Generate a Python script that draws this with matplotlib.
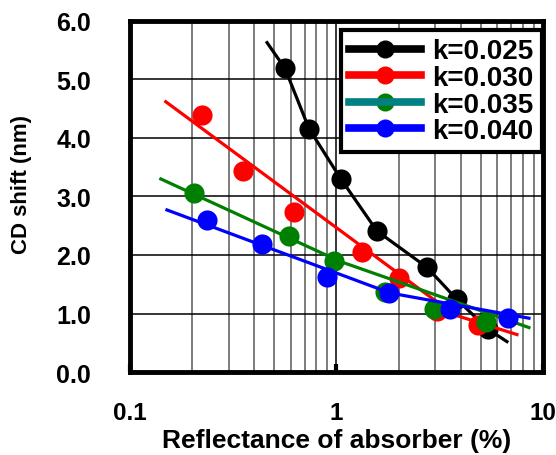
import matplotlib
matplotlib.use("Agg")
import matplotlib.pyplot as plt
import numpy as np
from matplotlib.lines import Line2D
from matplotlib.legend_handler import HandlerTuple

plt.rcParams['font.family'] = ['Liberation Sans', 'DejaVu Sans']
plt.rcParams['font.weight'] = 'bold'
plt.rcParams['axes.labelweight'] = 'bold'

labels = ["k=0.025", "k=0.030", "k=0.035", "k=0.040"]
colors = ["black", "red", "green", "blue"]

# measured points
pts_x = [
    [0.563, 0.736, 1.05, 1.57, 2.74, 3.83, 5.42],
    [0.223, 0.352, 0.622, 1.33, 2.01, 3.07, 4.84],
    [0.204, 0.589, 0.973, 1.72, 2.97, 5.30],
    [0.236, 0.436, 0.90, 1.80, 3.55, 6.77],
]
pts_y = [
    [5.19, 4.16, 3.30, 2.41, 1.79, 1.24, 0.73],
    [4.40, 3.44, 2.74, 2.05, 1.60, 1.04, 0.80],
    [3.06, 2.32, 1.89, 1.36, 1.07, 0.85],
    [2.60, 2.19, 1.62, 1.35, 1.07, 0.93],
]

# fitted trend lines (vertices)
fit_x = [
    [0.461, 0.563, 0.736, 1.05, 1.57, 2.74, 3.83, 5.42, 6.69],
    [0.149, 3.17, np.nan, 3.07, 7.48],
    [0.141, 1.04, 8.55],
    [0.151, 1.82, 8.55],
]
fit_y = [
    [5.63, 5.19, 4.16, 3.30, 2.41, 1.79, 1.24, 0.73, 0.52],
    [4.62, 1.16, np.nan, 1.07, 0.64],
    [3.30, 1.89, 0.76],
    [2.77, 1.35, 0.92],
]


def draw_series(ax):
    for i in range(len(labels)):
        ax.plot(fit_x[i], fit_y[i], color=colors[i], lw=2.3, zorder=3 + i)
        ax.plot(pts_x[i], pts_y[i], 'o', color=colors[i], ms=14.5, mec='none', zorder=3 + i)


def add_legend(ax):
    handles = []
    for i in range(len(labels)):
        if i == 2:
            m = Line2D([], [], marker='o', ls='none', color='green', ms=13, mec='none')
            l = Line2D([], [], color='#008080', lw=5.5)
            handles.append((m, l))
        else:
            handles.append(Line2D([], [], color=colors[i], lw=5.5, marker='o', ms=13, mec='none'))
    leg = ax.legend(handles, labels, loc='upper right', bbox_to_anchor=(0.998, 0.974),
                    borderaxespad=0, fontsize=20, fancybox=False, framealpha=1,
                    edgecolor='black', handlelength=2.6, handletextpad=0.4,
                    labelspacing=0.02, borderpad=0.3,
                    handler_map={tuple: HandlerTuple(ndivide=1, pad=0)})
    leg.get_frame().set_linewidth(3)
    leg.set_zorder(10)


fig = plt.figure(figsize=(5.56, 4.56), dpi=100)
ax = fig.add_axes([0.2338, 0.182, 0.9766 - 0.2338, 0.9518 - 0.182])
draw_series(ax)
ax.set_xscale('log')
ax.set_xlim(0.1, 10)
ax.set_ylim(0, 6)
ax.set_xticks([0.1, 1, 10])
ax.set_xticklabels(["0.1", "1", "10"])
ax.set_yticks(np.arange(0, 6.5, 1.0))
ax.set_yticklabels(["%.1f" % v for v in np.arange(0, 6.5, 1.0)])
ax.grid(True, which='major', axis='both', color='black', lw=1.1, zorder=1)
ax.grid(True, which='minor', axis='x', color='0.35', lw=1.1, zorder=1)
ax.set_axisbelow(True)
ax.tick_params(axis='x', which='major', direction='in', length=6, width=3, labelsize=17.5, pad=21)
ax.tick_params(axis='x', which='minor', length=0)
ax.tick_params(axis='y', length=0, labelsize=18, pad=28)
for s in ax.spines.values():
    s.set_linewidth(3.5)
    s.set_zorder(12)
ax.set_xlabel("Reflectance of absorber (%)", fontsize=19, labelpad=3)
ax.set_ylabel("CD shift (nm)", fontsize=16)
ax.yaxis.set_label_coords(-0.237, 0.536)
add_legend(ax)
fig.savefig("out.png", dpi=100)
